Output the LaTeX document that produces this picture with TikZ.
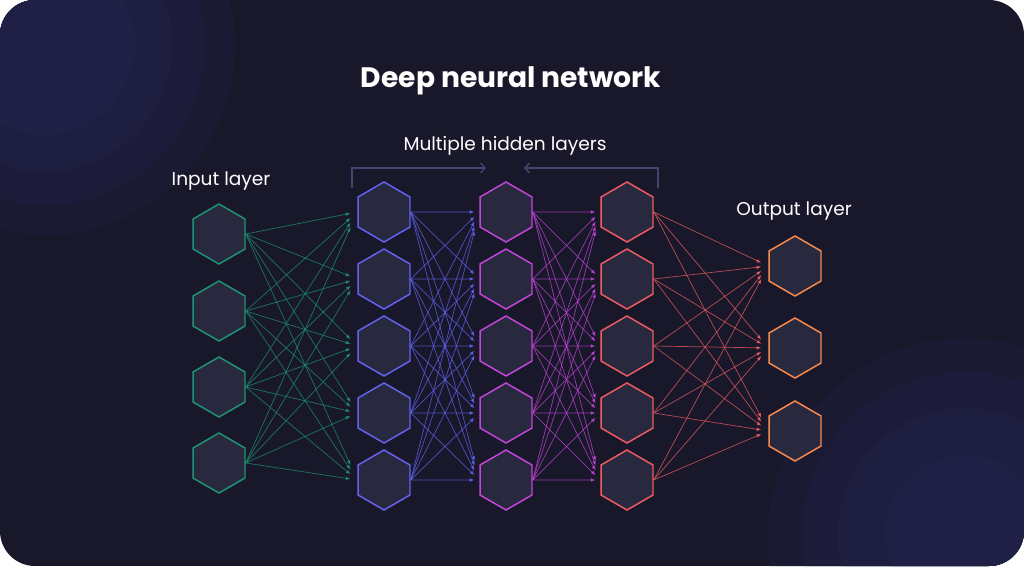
\documentclass[tikz,border=0pt]{standalone}
\usepackage{fontspec}
\setmainfont{Poppins}
\usetikzlibrary{arrows.meta, calc, shapes.geometric}
\definecolor{dnnbg}{HTML}{18182A}
\definecolor{dnnglowa}{HTML}{1A1A33}
\definecolor{dnnglowb}{HTML}{1C1C3A}
\definecolor{dnnglowc}{HTML}{1E1E41}
\definecolor{dnnglowd}{HTML}{202046}
\definecolor{dnncell}{HTML}{28283F}
\definecolor{dnngreen}{HTML}{1E9474}
\definecolor{dnnblue}{HTML}{6363F3}
\definecolor{dnnmagenta}{HTML}{C445DA}
\definecolor{dnncoral}{HTML}{EE5C62}
\definecolor{dnnorange}{HTML}{FA8A4C}
\definecolor{dnnbracket}{HTML}{45436F}
\tikzset{
  neuron/.style={
    regular polygon,
    regular polygon sides=6,
    shape border rotate=30,
    minimum size=1.5cm,
    inner sep=0pt,
    line width=1.05pt,
    fill=dnncell
  },
  inneuron/.style={neuron, draw=dnngreen},
  hidaneuron/.style={neuron, draw=dnnblue},
  hidbneuron/.style={neuron, draw=dnnmagenta},
  hidcneuron/.style={neuron, draw=dnncoral},
  outneuron/.style={neuron, draw=dnnorange},
  link/.style={
    -{Latex[length=3.4pt,width=2.6pt]},
    line width=0.5pt,
    draw opacity=0.75
  },
  bracketline/.style={
    -{Straight Barb[length=3.2pt,width=7pt]},
    line width=1pt,
    draw=dnnbracket
  },
  layerlabel/.style={
    font=\fontsize{13.2}{16}\selectfont,
    text=white
  }
}

\begin{document}
\begin{tikzpicture}[x=0.025cm,y=-0.025cm]
% backdrop
\fill[white] (0,0) rectangle (1024,566);
\begin{scope}
  \clip[rounded corners=0.875cm] (0,0) rectangle (1024,566);
  \fill[dnnbg] (0,0) rectangle (1024,566);
  \foreach \r/\c in {190/dnnglowa,160/dnnglowb,127/dnnglowc,90/dnnglowd}
    \fill[\c] (45,45) circle[radius=\r];
  \foreach \r/\c in {197/dnnglowa,163/dnnglowb,127/dnnglowc,80/dnnglowd}
    \fill[\c] (965,535) circle[radius=\r];
\end{scope}

\node[text=white, font=\fontsize{20}{24}\selectfont\bfseries] (title) at (511,81)
  {Deep neural network};
\node[layerlabel] (inlabel) at (221,181) {Input layer};
\node[layerlabel] (hidlabel) at (505,146) {Multiple hidden layers};
\node[layerlabel] (outlabel) at (794,211) {Output layer};

% layers
\foreach \i/\y in {1/234,2/311,3/387,4/463}
  \node[inneuron] (in\i) at (219,\y) {};
\foreach \i/\y in {1/212,2/279,3/346,4/413,5/480} {
  \node[hidaneuron] (ha\i) at (384,\y) {};
  \node[hidbneuron] (hb\i) at (506,\y) {};
  \node[hidcneuron] (hc\i) at (627,\y) {};
}
\foreach \i/\y in {1/266,2/348,3/431}
  \node[outneuron] (out\i) at (795,\y) {};

% connections
\foreach \s in {1,...,4}
  \foreach \t in {1,...,5}
    \draw[link, dnngreen] (in\s.east) -- ($(ha\t.west)!0.06!(in\s.east)$);
\foreach \s in {1,...,5}
  \foreach \t in {1,...,5} {
    \draw[link, dnnblue] (ha\s.east) -- ($(hb\t.west)!0.07!(ha\s.east)$);
    \draw[link, dnnmagenta] (hb\s.east) -- ($(hc\t.west)!0.07!(hb\s.east)$);
  }
\foreach \s in {1,...,5}
  \foreach \t in {1,...,3}
    \draw[link, dnncoral] (hc\s.east) -- ($(out\t.west)!0.06!(hc\s.east)$);

% bracket over the hidden layers
\coordinate (brl) at (352,188);
\coordinate (brlend) at (486,168);
\coordinate (brr) at (658,188);
\coordinate (brrend) at (524,168);
\draw[bracketline] (brl) |- (brlend);
\draw[bracketline] (brr) |- (brrend);
\end{tikzpicture}
\end{document}
